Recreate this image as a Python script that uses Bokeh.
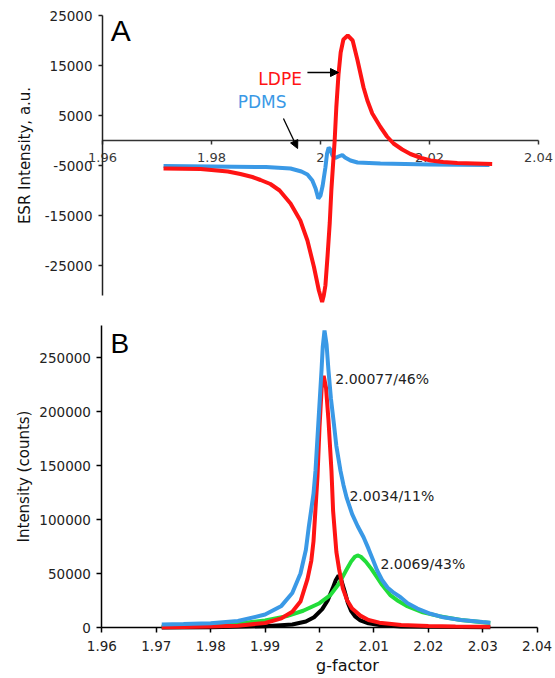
from bokeh.plotting import figure
from bokeh.layouts import column
from bokeh.models import (FixedTicker, Label, Arrow, NormalHead, CustomJSTickFormatter, Range1d)
from bokeh.embed import file_html
from bokeh.resources import INLINE

# ---------------- Panel A data (ESR spectra) ----------------
a_pdms_g = [1.9712, 1.9800, 1.9900, 1.9945, 1.9965, 1.9976, 1.9985, 1.9991, 1.9996,
            2.0000, 2.0004, 2.0009, 2.0012, 2.0015, 2.0018, 2.0022, 2.0027, 2.0033,
            2.0040, 2.0045, 2.0055, 2.0068, 2.0110, 2.0200, 2.0310]
a_pdms_v = [-5100, -5200, -5300, -5600, -6200, -6800, -8000, -9600, -11600,
            -11000, -9000, -5400, -2600, -1400, -1800, -3000, -3500, -3200,
            -2900, -3400, -4000, -4400, -4600, -4800, -4900]

a_ldpe_g = [1.9712, 1.9780, 1.9830, 1.9853, 1.9875, 1.9890, 1.9908, 1.9925, 1.9945,
            1.9963, 1.9976, 1.9988, 1.9997, 2.0003, 2.0006, 2.0009, 2.0013, 2.0017,
            2.0020, 2.0024, 2.0026, 2.0029, 2.0033, 2.0037, 2.0042, 2.0050, 2.0059,
            2.0068, 2.0079, 2.0086, 2.0095, 2.0110, 2.0122, 2.0134, 2.0150, 2.0165,
            2.0185, 2.0202, 2.0225, 2.0251, 2.0315]
a_ldpe_v = [-5600, -5700, -6200, -6700, -7300, -7900, -8700, -10000, -12600,
            -16000, -20000, -25300, -30000, -32300, -31000, -29000, -23000, -16400,
            -9800, -3200, 0, 6600, 13200, 17600, 20200, 21000, 20000,
            16000, 10600, 8000, 5400, 2700, 800, -600, -1800, -2700,
            -3500, -4000, -4300, -4500, -4700]

a_xticks = [1.96, 1.98, 2.0, 2.02, 2.04]
a_yticks = [-25000, -15000, -5000, 5000, 15000, 25000]

# ---------------- Panel B data (fitted components) ----------------
b_total_g = [1.9710, 1.9750, 1.9800, 1.9850, 1.9900, 1.9930, 1.9950, 1.9965, 1.9975,
             1.9980, 1.9989, 1.99926, 1.99982, 2.00037, 2.0006, 2.00092, 2.0013, 2.00165,
             2.0021, 2.00257, 2.0031, 2.00386, 2.0044, 2.0050, 2.0060, 2.0070, 2.0081,
             2.0090, 2.0098, 2.0106, 2.0115, 2.0125, 2.0137, 2.0149, 2.0162, 2.0180,
             2.0204, 2.0225, 2.0260, 2.0300, 2.0314]
b_total_v = [2800, 3200, 4000, 6000, 12000, 20000, 32000, 50000, 72000,
             92000, 124000, 145000, 192000, 238000, 260000, 275000, 262000, 238000,
             212000, 192000, 168000, 145000, 132000, 120000, 105000, 94000, 83600,
             73000, 63000, 52800, 44000, 37000, 32000, 28000, 22500, 17500,
             12700, 9800, 7000, 5000, 4500]

b_red_g = [1.9710, 1.9750, 1.9800, 1.9850, 1.9900, 1.9930, 1.9950, 1.9965, 1.9978,
           1.9985, 1.9989, 1.99963, 2.0000, 2.0004, 2.00077, 2.0012, 2.00165, 2.0022,
           2.0025, 2.0031, 2.0036, 2.0043, 2.0051, 2.0060, 2.0075, 2.0090, 2.0110,
           2.0150, 2.0200, 2.0250, 2.0314]
b_red_v = [300, 500, 900, 1700, 4200, 8500, 14500, 24000, 45000,
           62000, 80000, 140000, 185000, 222000, 233000, 222000, 192000, 145000,
           108000, 70000, 54000, 36000, 25000, 17500, 11000, 7000, 4500,
           2300, 1300, 900, 600]

b_black_g = [1.9710, 1.9800, 1.9900, 1.9950, 1.9975, 1.9990, 2.0005, 2.0015, 2.0024,
             2.0030, 2.0035, 2.0040, 2.0046, 2.0052, 2.0058, 2.0066, 2.0075, 2.0090,
             2.0110, 2.0150, 2.0200, 2.0314]
b_black_v = [0, 300, 1200, 2800, 5500, 9500, 17000, 25000, 36000,
             44000, 48000, 44000, 34000, 23000, 15500, 10000, 6500, 3800,
             2200, 1000, 600, 300]

b_green_g = [1.9710, 1.9750, 1.9800, 1.9850, 1.9900, 1.9940, 1.9970, 2.0000, 2.0020,
             2.0035, 2.0048, 2.0058, 2.0065, 2.0070, 2.0076, 2.0085, 2.0095, 2.0105,
             2.0115, 2.0130, 2.0145, 2.0160, 2.0190, 2.0220, 2.0260, 2.0300, 2.0314]
b_green_v = [1000, 1600, 2500, 3800, 6500, 10500, 15500, 22500, 30000,
             40000, 52000, 61000, 65500, 66700, 65500, 61000, 54500, 47000,
             39500, 30000, 24500, 20000, 14000, 10500, 7000, 4800, 4200]

b_xticks = [1.96, 1.97, 1.98, 1.99, 2.0, 2.01, 2.02, 2.03, 2.04]
b_yticks = [0, 50000, 100000, 150000, 200000, 250000]

peak_labels = ["2.00077/46%", "2.0034/11%", "2.0069/43%"]
peak_label_g = [2.0029, 2.0055, 2.0112]
peak_label_v = [230500, 122000, 59000]

RED = "#ff1414"
BLUE = "#3a99e6"
GREEN = "#22dd3a"
FONT = "DejaVu Sans"

xfmt = CustomJSTickFormatter(code="return parseFloat(tick.toFixed(3)).toString();")
yfmt = CustomJSTickFormatter(code="return Math.round(tick).toString();")


def style(p):
    p.grid.visible = False
    p.outline_line_color = None
    p.background_fill_color = "white"
    p.border_fill_color = "white"
    for ax in (p.xaxis[0], p.yaxis[0]):
        ax.major_label_text_font = FONT
        ax.axis_label_text_font = FONT
        ax.axis_label_text_font_style = "normal"
        ax.minor_tick_line_color = None
        ax.major_tick_in = 0
        ax.axis_line_width = 1.5
        ax.major_tick_line_width = 1.5
        ax.level = "underlay"


# ---------------- Panel A figure ----------------
pA = figure(width=555, height=312,
            x_range=Range1d(1.941284, 2.043119), y_range=Range1d(-34400, 28000),
            output_backend="svg", toolbar_location=None, min_border=0,
            min_border_left=0, min_border_right=0, min_border_top=0, min_border_bottom=0)
style(pA)
xa = pA.xaxis[0]
xa.fixed_location = 0
xa.bounds = (1.96, 2.04)
xa.ticker = FixedTicker(ticks=a_xticks)
xa.formatter = xfmt
xa.major_tick_out = 4
xa.major_label_standoff = 8
xa.major_label_text_font_size = "13px"
xa.major_label_text_color = "#3a3a3a"
xa.axis_line_color = "#333333"
xa.major_tick_line_color = "#333333"
ya = pA.yaxis[0]
ya.fixed_location = 1.96
ya.ticker = FixedTicker(ticks=a_yticks)
ya.formatter = yfmt
ya.bounds = (-31000, 25000)
ya.major_tick_out = 4
ya.major_label_standoff = 6
ya.major_label_text_font_size = "13.5px"
ya.major_label_text_color = "#222222"
ya.axis_line_color = "#222222"
ya.major_tick_line_color = "#222222"
ya.axis_label = "ESR Intensity, a.u."
ya.axis_label_text_font_size = "15px"
ya.axis_label_text_color = "#111111"
ya.axis_label_standoff = 8

pA.line(a_pdms_g, a_pdms_v, line_color=BLUE, line_width=4)
pA.line(a_ldpe_g, a_ldpe_v, line_color=RED, line_width=4)

pA.add_layout(Label(x=1.9615, y=22000, text="A", text_font="Liberation Sans", text_font_size="30px",
                    text_baseline="middle", text_color="black"))
pA.add_layout(Label(x=1.9886, y=12400, text="LDPE", text_font=FONT, text_font_size="17px",
                    text_baseline="middle", text_color=RED))
pA.add_layout(Label(x=1.9848, y=7800, text="PDMS", text_font=FONT, text_font_size="17px",
                    text_baseline="middle", text_color=BLUE))
pA.add_layout(Arrow(end=NormalHead(size=8, fill_color="black", line_color="black"),
                    x_start=1.9976, y_start=13600, x_end=2.0033, y_end=13600,
                    line_color="black", line_width=1.3))
pA.add_layout(Arrow(end=NormalHead(size=8, fill_color="black", line_color="black"),
                    x_start=1.9932, y_start=4400, x_end=1.9958, y_end=-1600,
                    line_color="black", line_width=1.3))

# ---------------- Panel B figure ----------------
pB = figure(width=555, height=366,
            x_range=Range1d(1.941360, 2.043382), y_range=Range1d(-47222, 291667),
            output_backend="svg", toolbar_location=None, min_border=0,
            min_border_left=0, min_border_right=0, min_border_top=0, min_border_bottom=0)
style(pB)
xb = pB.xaxis[0]
xb.fixed_location = 0
xb.bounds = (1.96, 2.04)
xb.ticker = FixedTicker(ticks=b_xticks)
xb.formatter = xfmt
xb.major_tick_out = 5
xb.major_label_standoff = 8
xb.major_label_text_font_size = "13.5px"
xb.major_label_text_color = "#222222"
xb.axis_line_color = "black"
yb = pB.yaxis[0]
yb.fixed_location = 1.96
yb.ticker = FixedTicker(ticks=b_yticks)
yb.formatter = yfmt
yb.bounds = (0, 280000)
yb.major_tick_out = 5
yb.major_label_standoff = 6
yb.major_label_text_font_size = "13.5px"
yb.major_label_text_color = "#222222"
yb.axis_line_color = "black"
yb.axis_label = "Intensity (counts)"
yb.axis_label_text_font_size = "15px"
yb.axis_label_text_color = "#111111"
yb.axis_label_standoff = 3

pB.line(b_black_g, b_black_v, line_color="black", line_width=4)
pB.line(b_green_g, b_green_v, line_color=GREEN, line_width=4)
pB.line(b_red_g, b_red_v, line_color=RED, line_width=4)
pB.line(b_total_g, b_total_v, line_color=BLUE, line_width=4)

for t, gx, vy in zip(peak_labels, peak_label_g, peak_label_v):
    pB.add_layout(Label(x=gx, y=vy, text=t, text_font=FONT, text_font_size="14px",
                        text_baseline="middle", text_color="#222222"))

pB.add_layout(Label(x=1.9616, y=263000, text="B", text_font="Liberation Sans", text_font_size="28px",
                    text_baseline="middle", text_color="black"))
pB.add_layout(Label(x=2.00515, y=-35185, text="g-factor", text_font=FONT, text_font_size="16px",
                    text_align="center", text_baseline="middle", text_color="#111111"))

layout = column(pA, pB)
open("out.html", "w").write(file_html(layout, INLINE))
